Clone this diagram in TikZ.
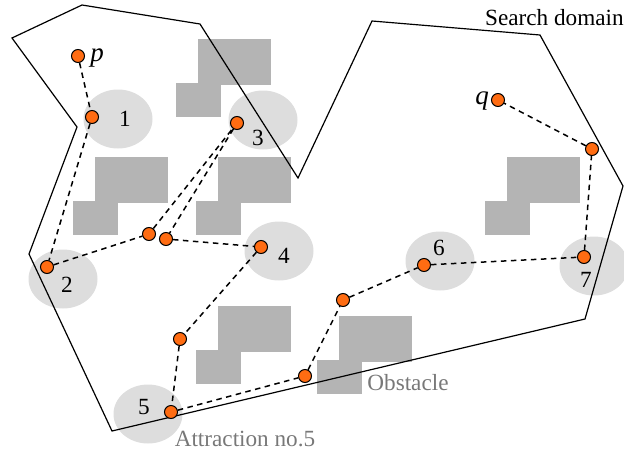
\documentclass[tikz,border=0pt]{standalone}
\usepackage{fontspec}
\setmainfont{Liberation Serif}
\usetikzlibrary{shapes.geometric}
\definecolor{orng}{RGB}{255,108,18}
\definecolor{obstgray}{RGB}{180,180,180}
\definecolor{attrgray}{RGB}{221,221,221}
\definecolor{txtgray}{RGB}{120,120,120}
\tikzset{
  ptnode/.style={circle,draw=black,line width=1pt,fill=orng,minimum size=13pt,inner sep=0pt},
  attrarea/.style={ellipse,fill=attrgray,minimum width=69pt,minimum height=59pt,inner sep=0pt},
  lbl/.style={anchor=base,inner sep=0pt,font=\fontsize{23.2}{28}\selectfont},
  glbl/.style={lbl,text=txtgray},
  pqlbl/.style={anchor=base,inner sep=0pt,font=\fontsize{27}{32}\selectfont\itshape},
  route/.style={dash pattern=on 5.5pt off 4.5pt,line width=1.5pt},
  searchline/.style={line width=1.2pt,line join=miter},
  obstfill/.style={fill=obstgray}
}
\begin{document}
\begin{tikzpicture}[x=1pt,y=-1pt]
\useasboundingbox (0,0) rectangle (624,453);
% attraction areas
\node[attrarea] (e1) at (118,119) {};
\node[attrarea] (e3) at (263,120) {};
\node[attrarea] (e2) at (63,279) {};
\node[attrarea] (e4) at (279,251) {};
\node[attrarea] (e5) at (148,414) {};
\node[attrarea] (e6) at (440,261) {};
\node[attrarea] (e7) at (594,266) {};
% obstacles
\foreach \X/\Y in {198/39, 95/157, 218/157, 507/157, 218/306, 339/316}{
  \fill[obstfill] (\X,\Y) rectangle ++(73,46);
  \fill[obstfill] (\X-22,\Y+44) rectangle ++(45,34);
}
% search domain
\draw[searchline] (12,38) -- (82,5) -- (200,24) -- (298,178) -- (372,21) -- (540,35)
  -- (623,186) -- (585,319) -- (112,431) -- (29,254) -- (77,127) -- cycle;
% points
\node[ptnode] (p) at (78,56) {};
\node[ptnode] (n1) at (92,117) {};
\node[ptnode] (n2) at (47,267) {};
\node[ptnode] (a) at (149,234) {};
\node[ptnode] (n3) at (237,123) {};
\node[ptnode] (b) at (166,239) {};
\node[ptnode] (n4) at (261,247) {};
\node[ptnode] (c) at (180,339) {};
\node[ptnode] (n5) at (171,412) {};
\node[ptnode] (d) at (305,376) {};
\node[ptnode] (e) at (343,300) {};
\node[ptnode] (n6) at (424,265) {};
\node[ptnode] (n7) at (584,257) {};
\node[ptnode] (r) at (592,149) {};
\node[ptnode] (q) at (498,100) {};
% route
\draw[route] (p) -- (n1) -- (n2) -- (a) -- (n3) -- (b) -- (n4) -- (c) -- (n5)
  -- (d) -- (e) -- (n6) -- (n7) -- (r) -- (q);
% labels
\node[lbl] (l1) at (125,126) {1};
\node[lbl] (l3) at (258,145) {3};
\node[lbl] (l2) at (67,292) {2};
\node[lbl] (l4) at (284,263) {4};
\node[lbl] (l5) at (144,414) {5};
\node[lbl] (l6) at (439,255) {6};
\node[lbl] (l7) at (586,287) {7};
\node[pqlbl] (lp) at (97,61) {p};
\node[pqlbl] (lq) at (482,104) {q};
\node[lbl,anchor=base west] (sd) at (485,25) {Search domain};
\node[glbl] (lo) at (408,390) {Obstacle};
\node[glbl] (la) at (245,446) {Attraction no.5};
\end{tikzpicture}
\end{document}
